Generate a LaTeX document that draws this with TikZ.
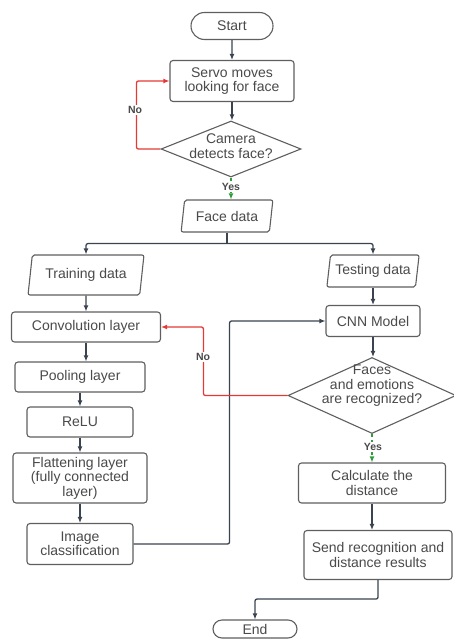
\documentclass[tikz,border=0pt]{standalone}
\usepackage{fontspec}
\setmainfont{Liberation Sans}
\usetikzlibrary{shapes.geometric,shapes.misc,arrows.meta}
\definecolor{ln}{HTML}{3B4350}
\definecolor{bd}{HTML}{5F5F5F}
\definecolor{tx}{HTML}{4A4A4A}
\definecolor{rd}{HTML}{E53935}
\definecolor{gr}{HTML}{2E9E3A}
\begin{document}
\begin{tikzpicture}[x=1pt,y=-1pt,
  font=\fontsize{14}{14.4}\selectfont,
  box/.style={draw=bd, line width=1.1pt, rounded corners=3pt, fill=white, text=tx, align=center, inner sep=0pt},
  term/.style={draw=bd, line width=1.1pt, rounded rectangle, fill=white, text=tx, inner sep=0pt},
  para/.style={box, trapezium, trapezium left angle=76, trapezium right angle=104, trapezium stretches=true, rounded corners=2pt},
  dia/.style={draw=bd, line width=1.1pt, diamond, inner sep=0pt, fill=white},
  txt/.style={text=tx, align=center, inner sep=0pt},
  arr/.style={draw=ln, line width=1.3pt, rounded corners=2pt, -{Latex[length=6pt,width=5pt]}},
  noarr/.style={draw=rd, line width=1.3pt, rounded corners=2pt, -{Latex[length=6pt,width=5pt]}},
  yesarr/.style={draw=gr, line width=1.3pt, dash pattern=on 3pt off 3pt, -{Latex[length=6pt,width=5pt]}},
  lab/.style={font=\fontsize{10.5}{12}\selectfont\bfseries, text=tx, fill=white, inner sep=1pt}
]
\useasboundingbox (0,0) rectangle (454,639);

\node[term, minimum width=82, minimum height=27] (start) at (232,26) {Start};
\node[box, minimum width=124, minimum height=41] (servo) at (232,81) {Servo moves\\looking for face};
\node[dia, minimum width=140, minimum height=56] (dec1) at (231,149) {};
\node[txt] at (231,146) {Camera\\detects face?};
\node[para, minimum width=92, minimum height=32] (fd) at (227,216) {Face data};
\node[para, minimum width=116, minimum height=40] (train) at (86,275) {Training data};
\node[para, minimum width=93, minimum height=32] (test) at (373,271) {Testing data};
\node[box, minimum width=149, minimum height=30] (conv) at (86,327) {Convolution layer};
\node[box, minimum width=94, minimum height=31] (cnn) at (373,321) {CNN Model};
\node[box, minimum width=130, minimum height=30] (pool) at (80,377) {Pooling layer};
\node[box, minimum width=106, minimum height=30] (relu) at (80,422) {ReLU};
\node[box, minimum width=134, minimum height=50] (flat) at (80,478) {Flattening layer\\(fully connected\\layer)};
\node[box, minimum width=106, minimum height=41] (imgc) at (80,544) {Image\\classification};
\node[dia, minimum width=168, minimum height=76] (dec2) at (372,395.5) {};
\node[txt] at (372,386) {Faces\\and emotions\\are recognized?};
\node[box, minimum width=147, minimum height=40] (calc) at (372,483) {Calculate the\\distance};
\node[box, minimum width=148, minimum height=49] (send) at (378,555) {Send recognition and\\distance results};
\node[term, minimum width=84, minimum height=18] (end) at (255,629) {End};

% top part
\draw[arr] (start) -- (servo);
\draw[arr] (servo.south) -- (servo.south |- dec1.north);
\draw[noarr] (dec1.west) -- ++(-24,0) |- (servo.west);
\node[lab] at (135,110) {No};
\draw[yesarr] (dec1.south) -- (dec1.south |- fd.north);
\node[lab] at (231,187) {Yes};

% split
\draw[draw=ln, line width=1.3pt] (fd.south) -- ++(0,11) coordinate (split);
\draw[arr] (split) -| (train.north);
\draw[arr] (split) -| (test.north);

% left column
\draw[arr] (train.south) -- (conv.north);
\draw[arr] (conv.south) -- (conv.south |- pool.north);
\draw[arr] (pool) -- (relu);
\draw[arr] (relu) -- (flat);
\draw[arr] (flat) -- (imgc);
\draw[arr] (imgc.east) -- ++(96,0) |- (cnn.west);

% right column
\draw[arr] (test.south) -- (test.south |- cnn.north);
\draw[arr] (cnn.south) -- (cnn.south |- dec2.north);
\draw[noarr] (dec2.west) -- ++(-84,0) |- (conv.east);
\node[lab] at (203,357) {No};
\draw[yesarr] (dec2.south) -- (dec2.south |- calc.north);
\node[lab] at (373,447) {Yes};
\draw[arr] (calc.south) -- (calc.south |- send.north);
\draw[arr] (send.south) -- ++(0,19) -| (end.north);
\end{tikzpicture}
\end{document}
